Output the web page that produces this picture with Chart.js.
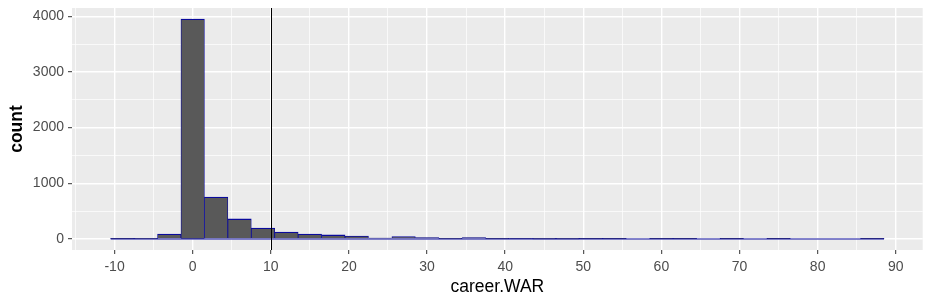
<!DOCTYPE html>
<html><head><meta charset="utf-8">
<script src="https://cdn.jsdelivr.net/npm/chart.js@4.4.1/dist/chart.umd.min.js"></script>
<style>html,body{margin:0;padding:0;background:#fff}</style>
</head><body>
<canvas id="c" width="932" height="304"></canvas>
<script>
// ---- data (histogram of career.WAR, binwidth 3) ----
const binCenters = [-9,-6,-3,0,3,6,9,12,15,18,21,24,27,30,33,36,39,42,45,48,51,54,57,60,63,66,69,72,75,78,81,84,87];
const counts     = [ 1, 6,90,3951,755,360,198,125,90,73,54,16,42,24,7,24,4,3,2,2,1,1,0,1,1,0,1,0,1,0,0,0,1];
const binWidth = 3;
const xTicks = [-10,0,10,20,30,40,50,60,70,80,90];
const yTicks = [0,1000,2000,3000,4000];
const refLineX = 10;
const xTitle = 'career.WAR';
const yTitle = 'count';

// ---- derived ranges (ggplot 5% expansion) ----
const lo = binCenters[0] - binWidth/2;
const hi = binCenters[binCenters.length-1] + binWidth/2;
const xPad = 0.05*(hi-lo);
const maxC = Math.max(...counts);
const FONT = '"Liberation Sans", Arial, sans-serif';
const EDGE = '#0A0A9C';

function tickBuilder(majors){
  return function(scale){
    const step = majors[1]-majors[0];
    const list = majors.filter(v => v>=scale.min && v<=scale.max).map(v => ({value:v}));
    for (let m = majors[0]-step/2; m <= majors[majors.length-1]+step/2; m += step){
      if (m >= scale.min && m <= scale.max) list.push({value:m, minor:true});
    }
    list.sort((a,b)=>a.value-b.value);
    scale.ticks = list;
  };
}
const gridOpts = {
  color:'#ffffff',
  lineWidth: c => (c.tick && c.tick.minor) ? 0.7 : 1.4,
  tickColor: c => (c.tick && c.tick.minor) ? 'rgba(0,0,0,0)' : '#333333',
  tickWidth: 1,
  tickLength: 4,
  drawTicks: true,
  offset: false
};
const labelCb = (v,i,ticks) => ticks[i] && ticks[i].minor ? '' : String(v);
const noPad = s => { s.paddingTop = 0; s.paddingBottom = 0; s.paddingLeft = 0; s.paddingRight = 0; };

const panelBg = {
  id:'panelBg',
  beforeDraw(chart){
    const {ctx, chartArea:a} = chart;
    ctx.save(); ctx.fillStyle='#EBEBEB';
    ctx.fillRect(a.left, a.top, a.right-a.left, a.bottom-a.top);
    ctx.restore();
  }
};
const vline = {
  id:'vline',
  afterDatasetsDraw(chart){
    const {ctx, chartArea:a, scales} = chart;
    const x = Math.round(scales.x.getPixelForValue(refLineX)) + 0.5;
    ctx.save(); ctx.strokeStyle='#000'; ctx.lineWidth=1;
    ctx.beginPath(); ctx.moveTo(x, a.top); ctx.lineTo(x, a.bottom); ctx.stroke();
    ctx.restore();
  }
};

new Chart(document.getElementById('c'), {
  type:'bar',
  data:{
    datasets:[
      { type:'bar',
        data: binCenters.map((c,i)=>({x:c, y:counts[i]})),
        backgroundColor:'#595959', borderColor:EDGE,
        borderWidth:{top:1.3,left:0.8,right:0.8,bottom:0}, borderSkipped:false,
        barPercentage:1, categoryPercentage:1, order:2 },
      { type:'line',
        data:[{x:lo,y:0},{x:hi,y:0}],
        borderColor:EDGE, borderWidth:1.1, pointRadius:0, fill:false, order:1 }
    ]
  },
  options:{
    responsive:false, animation:false, devicePixelRatio:1,
    layout:{padding:{left:0, top:8, right:9.3, bottom:0}},
    plugins:{legend:{display:false}, tooltip:{enabled:false}},
    scales:{
      x:{ type:'linear', min: lo-xPad, max: hi+xPad, offset:false,
          afterBuildTicks: tickBuilder(xTicks),
          afterFit: s => { s.height = 54; noPad(s); },
          grid: gridOpts, border:{display:false},
          ticks:{ autoSkip:false, maxRotation:0, padding:4.5, color:'#4D4D4D',
                  font:{family:FONT, size:14}, callback: labelCb },
          title:{ display:true, text:xTitle, color:'#000',
                  font:{family:FONT, size:17.5}, padding:{top:0, bottom:6} } },
      y:{ type:'linear', min: -0.05*maxC, max: 1.05*maxC,
          afterBuildTicks: tickBuilder(yTicks),
          afterFit: s => { s.width = 72; noPad(s); },
          grid: gridOpts, border:{display:false},
          ticks:{ autoSkip:false, padding:4, color:'#4D4D4D',
                  font:{family:FONT, size:14}, callback: labelCb },
          title:{ display:true, text:yTitle, color:'#000',
                  font:{family:FONT, size:17.5, weight:'bold'}, padding:{top:6.5, bottom:0} } }
    }
  },
  plugins:[panelBg, vline]
});
</script>
</body></html>
